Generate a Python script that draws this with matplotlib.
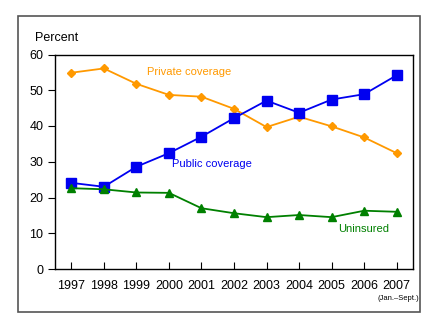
import matplotlib
matplotlib.use('Agg')
import matplotlib.pyplot as plt
from matplotlib.patches import Rectangle

plt.rcParams['font.family'] = ['Liberation Sans', 'DejaVu Sans']

# Dados
anos = [1997, 1998, 1999, 2000, 2001, 2002, 2003, 2004, 2005, 2006, 2007]
privado = [54.9, 56.1, 51.8, 48.7, 48.2, 44.8, 39.7, 42.6, 39.9, 36.8, 32.4]
publico = [24.1, 23.0, 28.6, 32.4, 37.0, 42.2, 47.1, 43.7, 47.4, 48.9, 54.2]
sem_seguro = [22.6, 22.3, 21.4, 21.3, 17.0, 15.6, 14.5, 15.1, 14.5, 16.3, 16.0]
yticks = [0, 10, 20, 30, 40, 50, 60]

laranja = '#FF9900'
azul = '#0000F0'
verde = '#008000'

fig = plt.figure(figsize=(4.4, 3.3), dpi=100)

# moldura externa
fig.patches.append(Rectangle((18 / 440, 1 - 312 / 330), (420 - 18) / 440, (312 - 16) / 330,
                             transform=fig.transFigure, fill=False,
                             edgecolor='#555555', linewidth=1.2))

ax = fig.add_axes([55 / 440, 1 - 269 / 330, (413 - 55) / 440, (269 - 54.5) / 330])

ax.plot(anos, privado, color=laranja, marker='D', markersize=4.5, linewidth=1.3)
ax.plot(anos, publico, color=azul, marker='s', markersize=6.5, linewidth=1.3)
ax.plot(anos, sem_seguro, color=verde, marker='^', markersize=6, linewidth=1.3)

ax.set_xlim(1996.5, 2007.5)
ax.set_ylim(0, 60)
ax.set_yticks(yticks)
ax.set_xticks(anos)
ax.tick_params(axis='x', direction='in', length=5, labelsize=9, pad=8)
ax.tick_params(axis='y', direction='out', length=5, labelsize=9)
for s in ax.spines.values():
    s.set_linewidth(1.0)

ax.text(1999.32, 55, 'Private coverage', color=laranja, fontsize=8, va='center')
ax.text(2000.1, 29.4, 'Public coverage', color=azul, fontsize=8, va='center')
ax.text(2005.2, 11.3, 'Uninsured', color=verde, fontsize=8, va='center')

fig.text(35 / 440, 1 - 38 / 330, 'Percent', fontsize=9, va='center')
fig.text(420 / 440 - 0.002, 1 - 298 / 330, '(Jan.\u2013Sept.)', fontsize=5.5, ha='right', va='center')

fig.savefig('out.png', dpi=100)
